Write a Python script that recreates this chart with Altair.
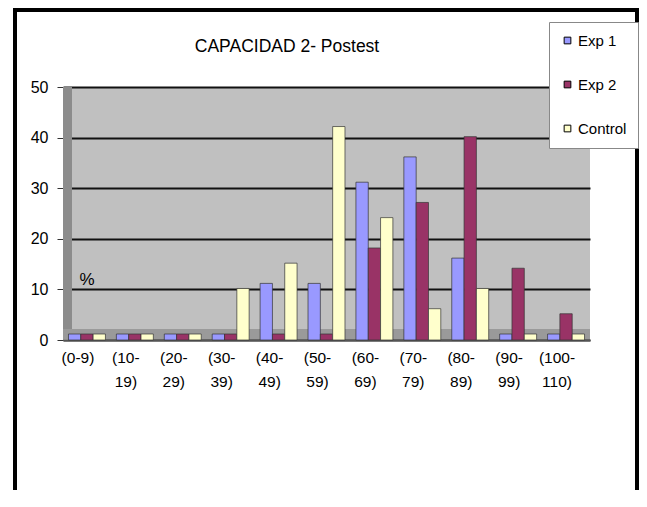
import altair as alt
import pandas as pd

categories = ["(0-9)", "(10-19)", "(20-29)", "(30-39)", "(40-49)", "(50-59)",
              "(60-69)", "(70-79)", "(80-89)", "(90-99)", "(100-110)"]
exp1 = [0, 0, 0, 0, 10, 10, 30, 35, 15, 0, 0]
exp2 = [0, 0, 0, 0, 0, 0, 17, 26, 39, 13, 4]
control = [0, 0, 0, 9, 14, 41, 23, 5, 9, 0, 0]
series = ["Exp 1", "Exp 2", "Control"]
colors = ["#9999FF", "#993366", "#FFFFCC"]
y_ticks = [0, 10, 20, 30, 40, 50]
title_text = "CAPACIDAD 2- Postest"

rows = []
for name, vals in zip(series, [exp1, exp2, control]):
    for c, v in zip(categories, vals):
        rows.append({"cat": c, "serie": name, "valor": v})
df = pd.DataFrame(rows)

lab_df = pd.DataFrame({
    "cat": categories,
    "label": [c if c == "(0-9)" else c.replace("-", "-|", 1) for c in categories],
})

W, H = 527, 253
FONT = "Liberation Sans"
one = pd.DataFrame({"k": [0]})

x_enc = alt.X("cat:N", sort=categories, title=None,
              scale=alt.Scale(paddingInner=0, paddingOuter=0),
              axis=alt.Axis(labels=False, ticks=False, domainColor="#555555",
                            domainWidth=1.5))

bars = alt.Chart(df).mark_bar(
    stroke="#333333", strokeWidth=0.7, yOffset=-6, y2Offset=-4
).encode(
    x=x_enc,
    xOffset=alt.XOffset("serie:N",
                        scale=alt.Scale(domain=series, paddingInner=0,
                                        paddingOuter=0.445)),
    y=alt.Y("valor:Q", title=None, stack=None,
            scale=alt.Scale(domain=[0, 50], nice=False),
            axis=alt.Axis(values=y_ticks, labelFont=FONT, labelFontSize=16,
                          labelColor="black", tickSize=6, tickColor="#333333",
                          labelPadding=9, grid=True, gridColor="#111111",
                          gridWidth=2, domainColor="#555555")),
    color=alt.Color("serie:N",
                    scale=alt.Scale(domain=series, range=colors),
                    legend=alt.Legend(title=None, orient="none", legendX=486,
                                      legendY=-65, fillColor="white",
                                      strokeColor="#888888", padding=11,
                                      labelFont=FONT, labelFontSize=15,
                                      labelColor="black", symbolType="square",
                                      symbolSize=45, symbolStrokeColor="black",
                                      symbolStrokeWidth=1, rowPadding=28,
                                      labelOffset=3)),
)

xlabels = alt.Chart(lab_df).mark_text(
    lineBreak="|", font=FONT, fontSize=15.5, color="black", baseline="top",
    lineHeight=24, dx=-9
).encode(x=alt.X("cat:N", sort=categories), y=alt.value(H + 11),
         text="label:N")

wall = alt.Chart(one).mark_rule(color="#8c8c8c", strokeWidth=9).encode(
    x=alt.value(4.5), y=alt.value(0), y2=alt.value(H))
floor = alt.Chart(one).mark_rule(color="#9a9a9a", strokeWidth=10).encode(
    x=alt.value(0), x2=alt.value(W), y=alt.value(H - 6))

pct = alt.Chart(one).mark_text(text="%", font=FONT, fontSize=17,
                               color="black").encode(
    x=alt.value(24), y=alt.value(193))
ttl = alt.Chart(one).mark_text(text=title_text, font=FONT, fontSize=17.5,
                               color="black").encode(
    x=alt.value(224), y=alt.value(-40))

f_left = alt.Chart(one).mark_rule(color="black", strokeWidth=4).encode(
    x=alt.value(-48), y=alt.value(-79), y2=alt.value(430))
f_right = alt.Chart(one).mark_rule(color="black", strokeWidth=4).encode(
    x=alt.value(574), y=alt.value(-79), y2=alt.value(430))
f_top = alt.Chart(one).mark_rule(color="black", strokeWidth=4).encode(
    x=alt.value(-50), x2=alt.value(576), y=alt.value(-77))

chart = alt.layer(wall, floor, bars, xlabels, pct, ttl,
                  f_left, f_right, f_top).properties(
    width=W, height=H,
    autosize=alt.AutoSizeParams(type="none"),
    padding={"left": 55, "top": 79, "right": 49, "bottom": 150},
).configure_view(fill="#C0C0C0", strokeWidth=0)

chart.save("out.html", embed_options={"renderer": "svg", "actions": False})
